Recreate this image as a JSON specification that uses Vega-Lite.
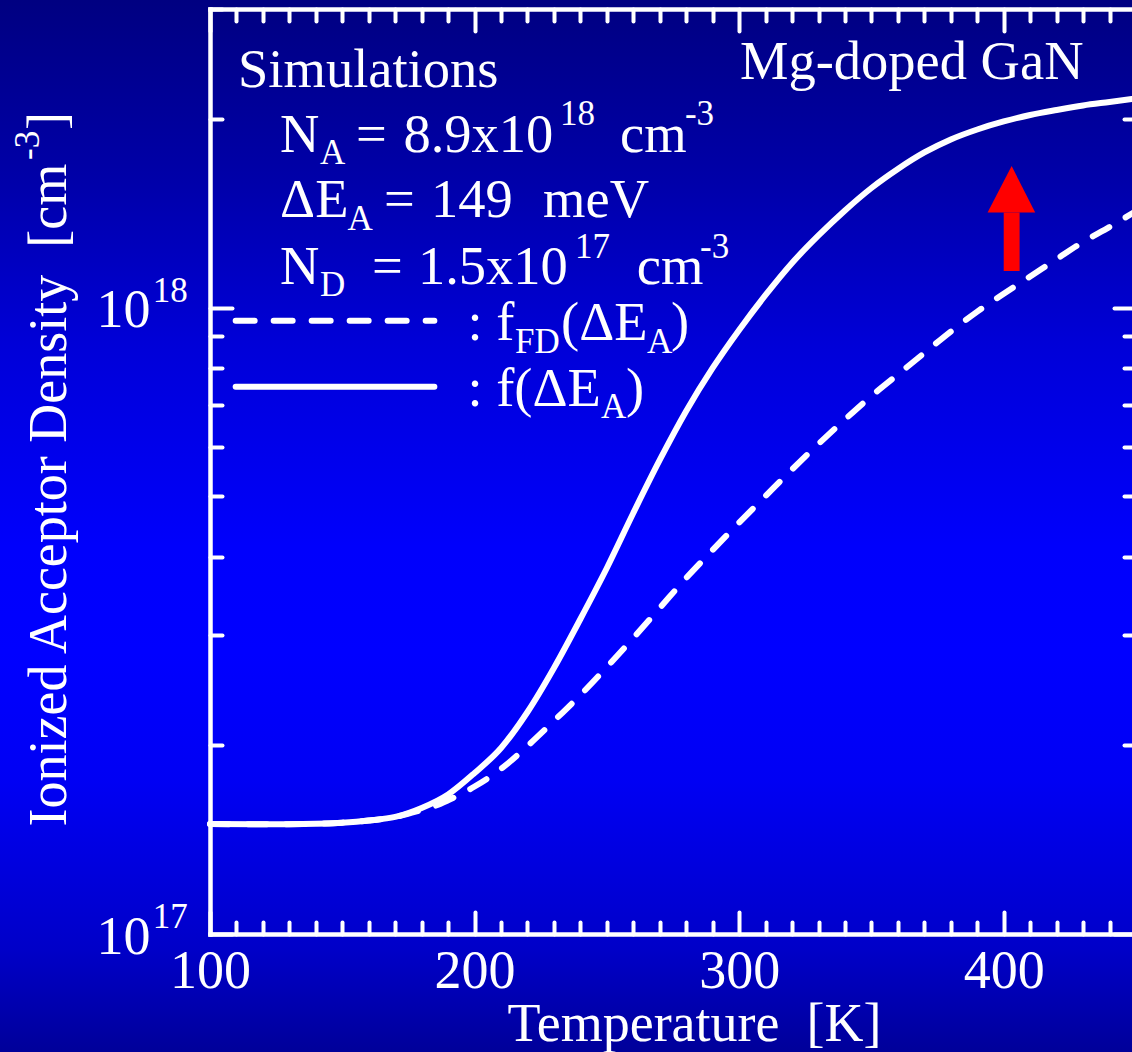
{"$schema":"https://vega.github.io/schema/vega-lite/v6.json","width":926,"height":925,"autosize":{"type":"none"},"padding":{"left":210,"top":9,"right":0,"bottom":118},"background":"#000090","config":{"view":{"stroke":null},"axis":{"grid":false,"domainColor":"#ffffff","domainWidth":4.5,"domainCap":"square","tickColor":"#ffffff","tickCap":"round","labelColor":"#ffffff","labelFont":"Liberation Serif","labelFontSize":54,"titleColor":"#ffffff","titleFont":"Liberation Serif","titleFontSize":54,"titleFontWeight":"normal","labelOverlap":false,"labelBound":false,"labelFlush":false}},"datasets":{"bg":[{"T":20,"T2":450,"N":6.4e16,"N2":3.15e18}],"solid":[{"T":100,"N":1.498e17},{"T":120,"N":1.497e17},{"T":140,"N":1.5e17},{"T":150,"N":1.506e17},{"T":160,"N":1.518e17},{"T":170,"N":1.538e17},{"T":180,"N":1.5893e17},{"T":190,"N":1.6704e17},{"T":200,"N":1.8077e17},{"T":210,"N":1.9817e17},{"T":220,"N":2.2622e17},{"T":230,"N":2.6595e17},{"T":240,"N":3.1844e17},{"T":250,"N":3.8414e17},{"T":260,"N":4.7024e17},{"T":270,"N":5.7142e17},{"T":280,"N":6.8422e17},{"T":290,"N":8.0143e17},{"T":300,"N":9.2167e17},{"T":310,"N":1.0482e18},{"T":320,"N":1.1792e18},{"T":330,"N":1.3047e18},{"T":340,"N":1.4303e18},{"T":350,"N":1.5534e18},{"T":360,"N":1.6659e18},{"T":370,"N":1.7701e18},{"T":380,"N":1.857e18},{"T":390,"N":1.9263e18},{"T":400,"N":1.9839e18},{"T":410,"N":2.0319e18},{"T":420,"N":2.0697e18},{"T":430,"N":2.1043e18},{"T":440,"N":2.1315e18},{"T":450,"N":2.1591e18}],"dashed":[{"T":100,"N":1.498e17},{"T":120,"N":1.497e17},{"T":140,"N":1.5e17},{"T":150,"N":1.506e17},{"T":160,"N":1.518e17},{"T":170,"N":1.538e17},{"T":180,"N":1.578e17},{"T":185,"N":1.601e17},{"T":190,"N":1.635e17},{"T":200,"N":1.72e17},{"T":210,"N":1.835e17},{"T":220,"N":1.996e17},{"T":230,"N":2.189e17},{"T":240,"N":2.408e17},{"T":250,"N":2.669e17},{"T":260,"N":2.969e17},{"T":270,"N":3.316e17},{"T":280,"N":3.703e17},{"T":290,"N":4.104e17},{"T":300,"N":4.54e17},{"T":310,"N":5.006e17},{"T":320,"N":5.519e17},{"T":330,"N":6.061e17},{"T":340,"N":6.632e17},{"T":350,"N":7.229e17},{"T":360,"N":7.826e17},{"T":370,"N":8.469e17},{"T":380,"N":9.165e17},{"T":390,"N":9.86e17},{"T":400,"N":1.053e18},{"T":410,"N":1.122e18},{"T":420,"N":1.196e18},{"T":430,"N":1.274e18},{"T":440,"N":1.346e18},{"T":450,"N":1.427e18}],"legendSolid":[{"T":109.7,"N":7.482e17},{"T":184.8,"N":7.482e17}],"legendDashed":[{"T":109.7,"N":9.537e17},{"T":184.8,"N":9.537e17}],"arrowHead":[{"T":393.9,"N":1.419e18,"N2":1.419e18},{"T":403,"N":1.684e18,"N2":1.419e18},{"T":411.9,"N":1.419e18,"N2":1.419e18}],"arrowShaft":[{"T":400,"T2":406,"N":1.145e18,"N2":1.419e18}],"mainText":[{"T":110.6,"N":2.2545e18,"t":"Simulations"},{"T":300.3,"N":2.321e18,"t":"Mg-doped GaN"},{"T":126.5,"N":1.7734e18,"t":"N"},{"T":155.2,"N":1.7734e18,"t":"="},{"T":173.1,"N":1.7734e18,"t":"8.9x10"},{"T":255,"N":1.7734e18,"t":"cm"},{"T":126.5,"N":1.3964e18,"t":"ΔE"},{"T":165.8,"N":1.3964e18,"t":"="},{"T":183.5,"N":1.3964e18,"t":"149"},{"T":225.9,"N":1.3964e18,"t":"meV"},{"T":126.5,"N":1.0915e18,"t":"N"},{"T":161.2,"N":1.0915e18,"t":"="},{"T":178.6,"N":1.0915e18,"t":"1.5x10"},{"T":261.3,"N":1.0915e18,"t":"cm"},{"T":197.3,"N":8.884e17,"t":": f"},{"T":232.7,"N":8.884e17,"t":"(ΔE"},{"T":274.2,"N":8.884e17,"t":")"},{"T":197.3,"N":6.969e17,"t":": f(ΔE"},{"T":257.2,"N":6.969e17,"t":")"}],"smallText":[{"T":141.6,"N":1.6966e18,"t":"A"},{"T":232.3,"N":1.9587e18,"t":"18"},{"T":279.5,"N":1.9587e18,"t":"-3"},{"T":152,"N":1.331e18,"t":"A"},{"T":141.6,"N":1.0443e18,"t":"D"},{"T":238,"N":1.2009e18,"t":"17"},{"T":285.2,"N":1.2009e18,"t":"-3"},{"T":215.3,"N":8.469e17,"t":"FD"},{"T":265.2,"N":8.469e17,"t":"A"},{"T":247.8,"N":6.668e17,"t":"A"},{"T":78.4,"N":1.0226e18,"t":"18"},{"T":78.4,"N":1.0212e17,"t":"17"}],"rotMain":[{"T":45.2,"N":1.923e18,"t":"]"}],"rotSmall":[{"T":35.4,"N":1.722e18,"t":"-3"}]},"encoding":{"x":{"field":"T","type":"quantitative","axis":null,"scale":{"domain":[100,450],"nice":false,"zero":false}},"y":{"field":"N","type":"quantitative","axis":null,"scale":{"type":"log","domain":[1e17,3e18],"nice":false}}},"layer":[{"data":{"name":"bg"},"mark":{"type":"rect","clip":false,"fill":{"gradient":"linear","x1":0,"y1":0,"x2":0,"y2":1,"stops":[{"offset":0,"color":"#000080"},{"offset":0.17,"color":"#0000a8"},{"offset":0.33,"color":"#0000d8"},{"offset":0.41,"color":"#0000e8"},{"offset":0.52,"color":"#0000fc"},{"offset":0.62,"color":"#0000ff"},{"offset":0.74,"color":"#0000f4"},{"offset":0.9,"color":"#0000c8"},{"offset":1,"color":"#000098"}]}},"encoding":{"x2":{"field":"T2"},"y2":{"field":"N2"}}},{"data":{"name":"dashed"},"mark":{"type":"line","color":"#ffffff","strokeWidth":6,"strokeCap":"round","strokeDash":[19,19],"interpolate":"monotone"},"encoding":{"x":{"field":"T","type":"quantitative","scale":{"domain":[100,450],"nice":false,"zero":false},"axis":{"orient":"bottom","zindex":1,"values":[110,120,130,140,150,160,170,180,190,210,220,230,240,250,260,270,280,290,310,320,330,340,350,360,370,380,390,410,420,430,440],"tickSize":-12,"tickWidth":4,"labels":false,"title":null,"domain":false}},"y":{"field":"N","type":"quantitative","scale":{"type":"log","domain":[1e17,3e18],"nice":false},"axis":{"orient":"left","zindex":1,"values":[2e17,3e17,4e17,5e17,6e17,7e17,8e17,9e17,2e18,3e18],"tickSize":-12,"tickWidth":4,"labels":false,"title":null,"domain":false}}}},{"data":{"name":"solid"},"mark":{"type":"line","color":"#ffffff","strokeWidth":6,"strokeCap":"round","interpolate":"monotone"},"encoding":{"x":{"field":"T","type":"quantitative","scale":{"domain":[100,450],"nice":false,"zero":false},"axis":{"orient":"bottom","zindex":1,"values":[100,200,300,400],"format":"d","tickSize":-22,"tickWidth":4,"labelPadding":75,"labelBaseline":"alphabetic","labelAlign":"center","title":"Temperature\u00a0\u00a0[K]","titleX":484,"titleY":106,"titleAlign":"center","titleBaseline":"alphabetic","titleAnchor":null}},"y":{"field":"N","type":"quantitative","scale":{"type":"log","domain":[1e17,3e18],"nice":false},"axis":{"orient":"left","zindex":1,"values":[1e17,1e18],"labelExpr":"'10'","tickSize":-22,"tickWidth":4,"labelPadding":82,"labelAlign":"right","labelBaseline":"alphabetic","labelOffset":19,"title":"Ionized Acceptor Density\u00a0\u00a0[cm","titleX":-145,"titleY":817,"titleAngle":270,"titleAlign":"left","titleBaseline":"alphabetic","titleAnchor":null}}}},{"data":{"name":"arrowHead"},"mark":{"type":"area","orient":"vertical","color":"#ff0000"},"encoding":{"x":{"field":"T","type":"quantitative","scale":{"domain":[100,450],"nice":false,"zero":false},"axis":{"orient":"top","zindex":1,"values":[100,200,300,400],"tickSize":-22,"tickWidth":4,"labels":false,"title":null}},"y":{"field":"N","type":"quantitative","scale":{"type":"log","domain":[1e17,3e18],"nice":false},"axis":{"orient":"right","zindex":1,"values":[1e17,1e18],"tickSize":-22,"tickWidth":4,"labels":false,"title":null}},"y2":{"field":"N2"}}},{"data":{"name":"arrowShaft"},"mark":{"type":"rect","color":"#ff0000"},"encoding":{"x":{"field":"T","type":"quantitative","scale":{"domain":[100,450],"nice":false,"zero":false},"axis":{"orient":"top","zindex":1,"values":[110,120,130,140,150,160,170,180,190,210,220,230,240,250,260,270,280,290,310,320,330,340,350,360,370,380,390,410,420,430,440],"tickSize":-12,"tickWidth":4,"labels":false,"title":null,"domain":false}},"x2":{"field":"T2"},"y":{"field":"N","type":"quantitative","scale":{"type":"log","domain":[1e17,3e18],"nice":false},"axis":{"orient":"right","zindex":1,"values":[2e17,3e17,4e17,5e17,6e17,7e17,8e17,9e17,2e18],"tickSize":-12,"tickWidth":4,"labels":false,"title":null,"domain":false}},"y2":{"field":"N2"}}},{"data":{"name":"legendDashed"},"mark":{"type":"line","color":"#ffffff","strokeWidth":6,"strokeCap":"round","strokeDash":[19,19]}},{"data":{"name":"legendSolid"},"mark":{"type":"line","color":"#ffffff","strokeWidth":6,"strokeCap":"round"}},{"data":{"name":"mainText"},"mark":{"type":"text","font":"Liberation Serif","fontSize":54.5,"color":"#ffffff","align":"left","baseline":"alphabetic"},"encoding":{"text":{"field":"t"}}},{"data":{"name":"smallText"},"mark":{"type":"text","font":"Liberation Serif","fontSize":35,"color":"#ffffff","align":"left","baseline":"alphabetic"},"encoding":{"text":{"field":"t"}}},{"data":{"name":"rotMain"},"mark":{"type":"text","font":"Liberation Serif","fontSize":54,"color":"#ffffff","align":"left","baseline":"alphabetic","angle":270},"encoding":{"text":{"field":"t"}}},{"data":{"name":"rotSmall"},"mark":{"type":"text","font":"Liberation Serif","fontSize":35,"color":"#ffffff","align":"left","baseline":"alphabetic","angle":270},"encoding":{"text":{"field":"t"}}}],"resolve":{"axis":{"x":"independent","y":"independent"}}}
